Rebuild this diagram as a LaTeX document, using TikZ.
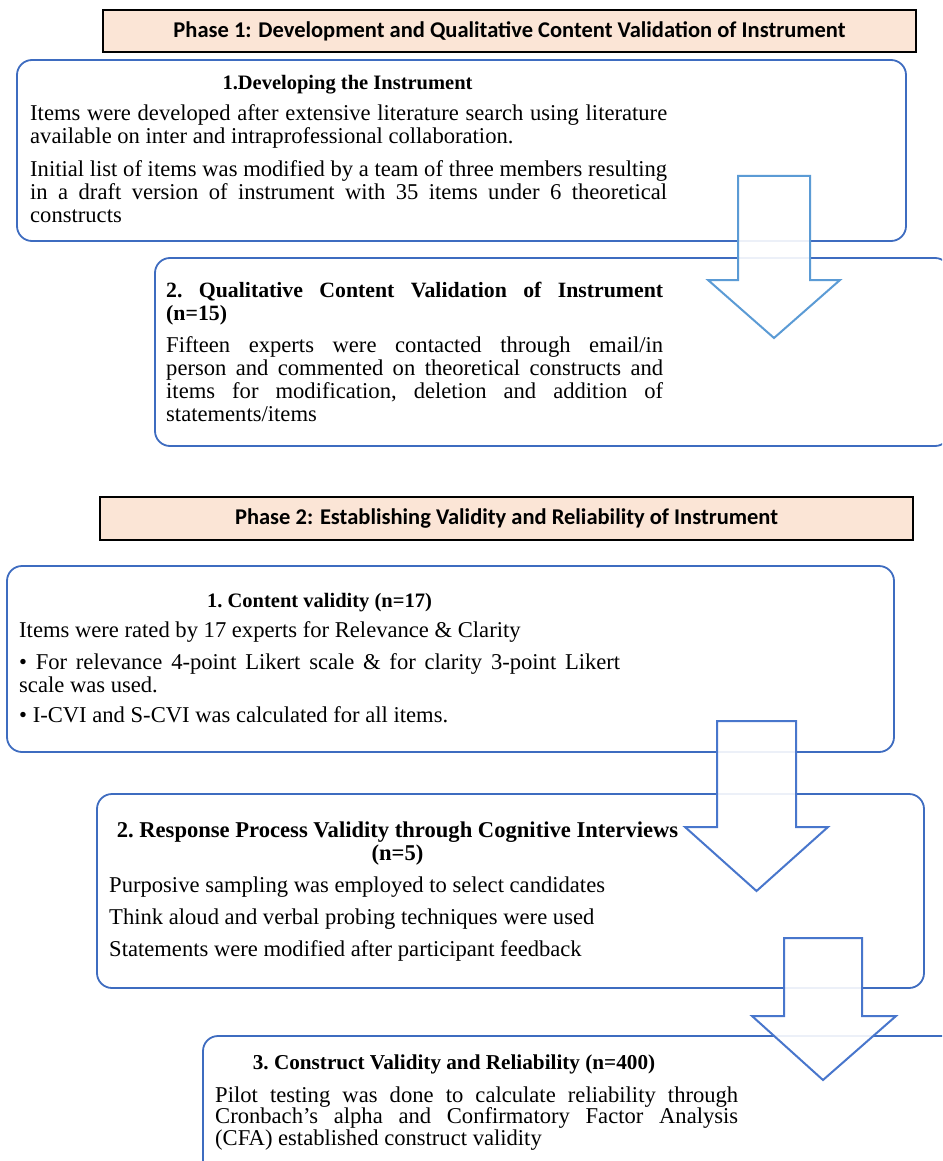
\documentclass[tikz,border=0pt]{standalone}
\usepackage{fontspec}
\setmainfont{Liberation Serif}
\newfontfamily\hdrfont{Carlito}
\definecolor{boxblue}{RGB}{62,108,192}
\definecolor{arrA}{RGB}{91,155,213}
\definecolor{arrB}{RGB}{72,118,204}
\definecolor{peach}{RGB}{251,229,214}
\tikzset{
  hdrbox/.style={draw=black, line width=1.5pt, fill=peach, minimum width=813pt, minimum height=42pt, inner sep=0pt, font=\hdrfont\bfseries\fontsize{22.5}{24}\selectfont},
  stagebox/.style={draw=boxblue, line width=1.8pt, rounded corners=15pt, inner sep=0pt},
  blockarrow/.style={draw=#1, line width=2pt, fill=white, fill opacity=0.9, line join=miter},
  bodytxt/.style={anchor=base west, inner sep=0pt, align=justify, font=\frenchspacing\fontsize{22.6}{23}\selectfont},
  ttltxt/.style={anchor=base, inner sep=0pt, align=center, font=\frenchspacing\bfseries\fontsize{20.5}{23}\selectfont},
}
\begin{document}
\begin{tikzpicture}[x=1pt,y=-1pt]
\clip (0,0) rectangle (942,1161);
\fill[white] (0,0) rectangle (942,1161);
% headers
\node[hdrbox] (h1) at (509.5,31) {Phase 1: Development and Qualitative Content Validation of Instrument};
\node[hdrbox, minimum height=43pt] (h2) at (506.5,518.5) {Phase 2: Establishing Validity and Reliability of Instrument};
% stage boxes
\node[stagebox, minimum width=889pt, minimum height=181pt] (b1) at (461.5,150.5) {};
\node[stagebox, minimum width=795pt, minimum height=188pt] (b2) at (552.5,352) {};
\node[stagebox, minimum width=887pt, minimum height=186pt] (b3) at (450.5,659) {};
\node[stagebox, minimum width=827pt, minimum height=194pt] (b4) at (510.5,891) {};
\node[stagebox, minimum width=757pt, minimum height=144pt] (b5) at (581.5,1108) {};
% block arrows
\draw[blockarrow=arrA] (738,176) -- (810,176) -- (810,280) -- (840,280) -- (774,338) -- (708,280) -- (738,280) -- cycle;
\draw[blockarrow=arrB] (717,721) -- (796,721) -- (796,827) -- (828,827) -- (756.5,891) -- (685,827) -- (717,827) -- cycle;
\draw[blockarrow=arrB] (784,938) -- (862,938) -- (862,1016) -- (896,1016) -- (823,1080) -- (752,1016) -- (784,1016) -- cycle;
% box 1 text
\node[ttltxt] (t1) at (347.5,90) {1.Developing the Instrument};
\node[bodytxt, text width=637pt] (p1a) at (30,121) {Items were developed after extensive literature search using literature\linebreak available on inter and intraprofessional collaboration.};
\node[bodytxt, text width=637pt] (p1b) at (30,177) {Initial list of items was modified by a team of three members resulting\linebreak in a draft version of instrument with 35 items under 6 theoretical\linebreak constructs};
% box 2 text
\node[bodytxt, text width=497pt, font=\frenchspacing\bfseries\fontsize{21.8}{23}\selectfont] (t2) at (166,297) {2. Qualitative Content Validation of Instrument\linebreak (n=15)};
\node[bodytxt, text width=497pt] (p2) at (166,352) {Fifteen experts were contacted through email/in\linebreak person and commented on theoretical constructs and\linebreak items for modification, deletion and addition of\linebreak statements/items};
% box 3 text
\node[ttltxt] (t3) at (319.5,607) {1. Content validity (n=17)};
\node[bodytxt, align=left] (p3a) at (19,637) {Items were rated by 17 experts for Relevance \& Clarity};
\node[bodytxt, text width=601pt] (p3b) at (19,669) {• For relevance 4-point Likert scale \& for clarity 3-point Likert\linebreak scale was used.};
\node[bodytxt, align=left] (p3c) at (19,722) {• I-CVI and S-CVI was calculated for all items.};
% box 4 text
\node[ttltxt, font=\frenchspacing\bfseries\fontsize{22.6}{23}\selectfont] (t4) at (397.5,837) {2. Response Process Validity through Cognitive Interviews};
\node[ttltxt, font=\frenchspacing\bfseries\fontsize{22.6}{23}\selectfont] (t4b) at (397.5,860) {(n=5)};
\node[bodytxt, align=left] (p4a) at (109,892) {Purposive sampling was employed to select candidates};
\node[bodytxt, align=left] (p4b) at (109,924) {Think aloud and verbal probing techniques were used};
\node[bodytxt, align=left] (p4c) at (109,956) {Statements were modified after participant feedback};
% box 5 text
\node[ttltxt, font=\frenchspacing\bfseries\fontsize{21.2}{23}\selectfont] (t5) at (454,1069) {3. Construct Validity and Reliability (n=400)};
\node[bodytxt, text width=523pt, font=\frenchspacing\fontsize{22.6}{21.7}\selectfont] (p5) at (215,1102) {Pilot testing was done to calculate reliability through\linebreak Cronbach’s alpha and Confirmatory Factor Analysis\linebreak (CFA) established construct validity};
\end{tikzpicture}
\end{document}
